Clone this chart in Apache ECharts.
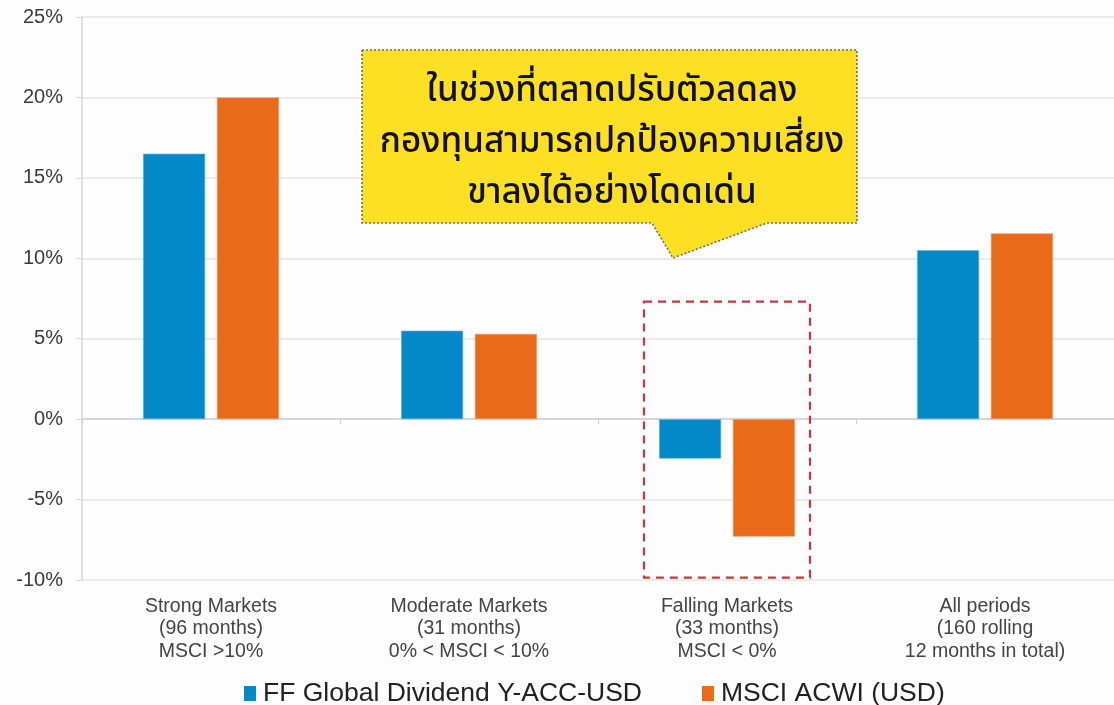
<!DOCTYPE html>
<html lang="th">
  <head>
    <meta charset="UTF-8" />
    <title>FF Global Dividend vs MSCI ACWI</title>
    <script src="https://cdn.jsdelivr.net/npm/echarts@6.0.0/dist/echarts.min.js"></script>
    <style>
      html, body { margin: 0; padding: 0; background: #fdfdfd; }
    </style>
  </head>
  <body>
    <div id="main" style="width: 1114px; height: 705px"></div>
    <script type="text/javascript">
      // data
      const categories = [
        'Strong Markets\n(96 months)\nMSCI >10%',
        'Moderate Markets\n(31 months)\n0% < MSCI < 10%',
        'Falling Markets\n(33 months)\nMSCI < 0%',
        'All periods\n(160 rolling\n12 months in total)',
      ];
      const fundName = 'FF Global Dividend Y-ACC-USD';
      const indexName = 'MSCI ACWI (USD)';
      const fundValues = [16.5, 5.5, -2.45, 10.5];
      const indexValues = [20.0, 5.3, -7.3, 11.55];
      const calloutLines = [
        'ในช่วงที่ตลาดปรับตัวลดลง',
        'กองทุนสามารถปกป้องความเสี่ยง',
        'ขาลงได้อย่างโดดเด่น',
      ];
      // dashed box around the falling-market bars (value range, %)
      const highlightIndex = 2;
      const highlightRange = [7.3, -9.85];

      const container = document.getElementById('main');
      const myChart = echarts.init(container, null, { width: 1114, height: 705 });

      const option = {
        backgroundColor: '#fdfdfd',
        animation: false,
        textStyle: { fontFamily: 'Liberation Sans, Arial, sans-serif' },
        grid: { left: 82, right: 0, top: 17, bottom: 125 },
        legend: {
          top: 675,
          left: 239,
          itemWidth: 12,
          itemHeight: 15,
          itemGap: 60,
          icon: 'rect',
          itemStyle: { borderWidth: 0 },
          textStyle: { fontSize: 26.5, color: '#222', padding: [0, 0, 0, 2] },
          data: [fundName, indexName],
        },
        xAxis: [
          {
            type: 'category',
            data: categories,
            position: 'bottom',
            axisLine: { show: false, onZero: false },
            axisTick: { show: false },
            axisLabel: {
              fontSize: 19.5,
              lineHeight: 22.5,
              color: '#444',
              margin: 15,
              interval: 0,
            },
          },
          {
            type: 'category',
            data: categories,
            position: 'bottom',
            axisLine: { show: true, onZero: true, onZeroAxisIndex: 0, lineStyle: { color: '#cfcfd4', width: 1.5 } },
            axisTick: { show: true, length: 5, lineStyle: { color: '#cfcfd4' } },
            axisLabel: { show: false },
          },
        ],
        yAxis: {
          type: 'value',
          min: -10,
          max: 25,
          interval: 5,
          axisLine: { show: true, lineStyle: { color: '#d6d6dc', width: 1.5 } },
          axisTick: { show: true, length: 6, lineStyle: { color: '#d6d6dc' } },
          axisLabel: {
            formatter: '{value}%',
            fontSize: 20,
            color: '#3a3a3a',
            margin: 19,
          },
          splitLine: { lineStyle: { color: '#e4e4e8', width: 1.5 } },
        },
        series: [
          {
            name: fundName,
            type: 'bar',
            data: fundValues,
            barWidth: 62,
            barGap: '19%',
            itemStyle: { color: '#0388c8', borderColor: '#5fb3de', borderWidth: 0.6 },
          },
          {
            name: indexName,
            type: 'bar',
            data: indexValues,
            barWidth: 62,
            itemStyle: { color: '#e96a19', borderColor: '#f29a5f', borderWidth: 0.6 },
          },
        ],
      };

      myChart.setOption(option);

      // annotations placed from the chart's own scales
      const boxTop = myChart.convertToPixel({ yAxisIndex: 0 }, highlightRange[0]);
      const boxBottom = myChart.convertToPixel({ yAxisIndex: 0 }, highlightRange[1]);
      const boxCenter = myChart.convertToPixel({ xAxisIndex: 0 }, highlightIndex);

      const calloutShape = [
        [362, 50], [857, 50], [857, 223], [767, 223],
        [673, 258], [652, 223], [362, 223],
      ];

      myChart.setOption({
        graphic: [
          {
            type: 'rect',
            shape: { x: boxCenter - 83, y: boxTop, width: 166, height: boxBottom - boxTop },
            style: { fill: 'none', stroke: '#c8383a', lineWidth: 2.2, lineDash: [8, 6] },
            z: 10,
          },
          {
            type: 'polygon',
            shape: { points: calloutShape },
            style: { fill: '#fde023', stroke: '#6e6e6e', lineWidth: 1.6, lineDash: [2, 2] },
            z: 20,
          },
          {
            type: 'text',
            x: 612,
            y: 68,
            style: {
              text: calloutLines.join('\n'),
              fill: '#111',
              font: '500 35px "Noto Sans Thai", "Noto Sans", sans-serif',
              lineHeight: 51,
              align: 'center',
              verticalAlign: 'top',
            },
            z: 21,
          },
        ],
      });
    </script>
  </body>
</html>
